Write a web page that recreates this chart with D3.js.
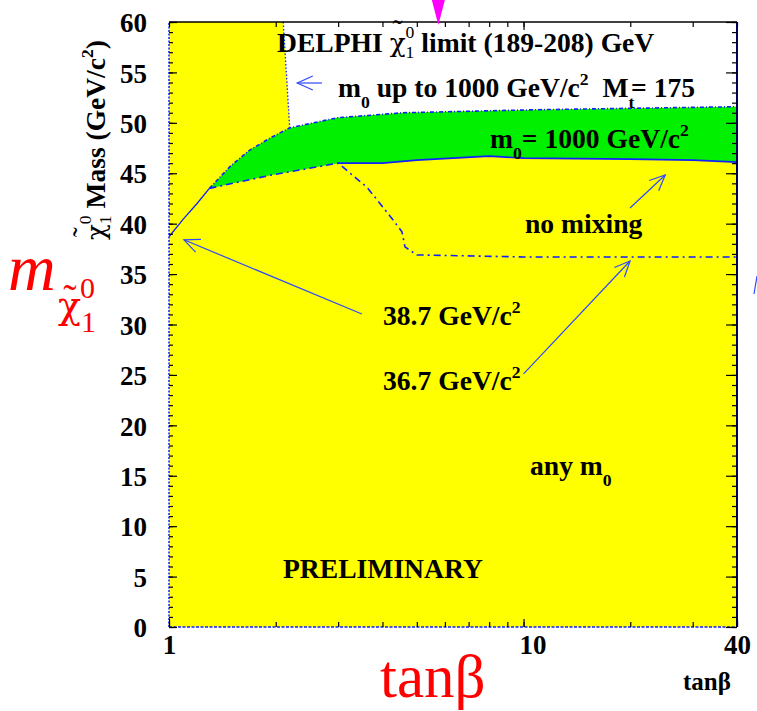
<!DOCTYPE html>
<html>
<head>
<meta charset="utf-8">
<script src="https://cdn.jsdelivr.net/npm/d3@7"></script>
<style>
  body { margin: 0; background: #fff; }
  svg text { font-family: "Liberation Serif", "Times New Roman", Times, serif; }
  svg text.greek { font-family: "DejaVu Serif", "Liberation Serif", serif; }
</style>
</head>
<body>
<svg id="chart" width="757" height="711"></svg>
<script>
// ---- axes ----
const tanBetaRange = [1, 40];
const tanBetaLabels = [1, 10, 40];
const tanBetaTicks = [1, 2, 3, 4, 5, 6, 7, 8, 9, 10, 20, 30, 40];
const massRange = [0, 60];
const massLabels = [0, 5, 10, 15, 20, 25, 30, 35, 40, 45, 50, 55, 60];
const massMinor = d3.range(0, 61, 1);

// ---- limits on the lightest neutralino mass (tan(beta), GeV/c^2) ----
// common part at low tan(beta)
const limitCommon = [[1, 38.7], [1.1, 40.5], [1.2, 42.0], [1.3, 43.5]];
// no stop mixing
const limitNoMixing = [[1.3, 43.5], [1.93, 44.8], [3.0, 46.0], [3.62, 43.6], [4.28, 40.4],
                       [4.54, 39.2], [4.63, 37.7], [5.0, 36.9], [10, 36.7], [40, 36.7]];
// m0 = 1000 GeV/c^2
const limitM0Max = [[3.0, 46.0], [4.0, 46.0], [5.0, 46.3], [8.0, 46.7], [10, 46.5],
                    [20, 46.4], [30, 46.3], [40, 46.1]];
// m0 up to 1000 GeV/c^2
const limitM0Range = [[1.3, 43.5], [1.49, 45.7], [1.69, 47.3], [1.93, 48.5], [2.19, 49.5],
                      [2.98, 50.5], [4.57, 51.0], [10.9, 51.3], [40, 51.6]];
// edge of the open (not excluded) region at low tan(beta)
const openEdge = [[2.10, 60], [2.19, 49.5]];
// tan(beta) marker on the top axis
const topMarker = 5.75;

// ---- layout ----
const svg = d3.select("#chart");
const M = { left: 169, top: 22, right: 20, bottom: 84 };
const W = 757 - M.left - M.right;
const H = 711 - M.top - M.bottom;

const x = d3.scaleLog().domain(tanBetaRange).range([M.left, M.left + W]);
const y = d3.scaleLinear().domain(massRange).range([M.top + H, M.top]);

const BLUE = "#1020ff";
const ARROW = "#3048ff";
const line = d3.line().x(d => x(d[0])).y(d => y(d[1]));

// ---- regions ----
svg.append("rect").attr("x", x(1)).attr("y", y(60)).attr("width", W).attr("height", H)
  .attr("fill", "#ffff00");

// open region above the m0 range limit
const openPoly = [openEdge[0], [40, 60]]
  .concat(limitM0Range.slice().reverse().filter(d => d[0] >= openEdge[1][0]));
svg.append("path").attr("d", line(openPoly) + "Z").attr("fill", "#fff");

// band between m0 = 1000 and m0 up to 1000
const lowerEdge = limitNoMixing.filter(d => d[0] < 3.0).concat(limitM0Max);
const bandPoly = limitM0Range.concat(lowerEdge.slice().reverse());
svg.append("path").attr("d", line(bandPoly) + "Z").attr("fill", "#00f000");

// ---- limit curves ----
svg.append("path").attr("d", line(limitCommon)).attr("fill", "none")
  .attr("stroke", BLUE).attr("stroke-width", 1.3);
svg.append("path").attr("d", line(limitM0Max)).attr("fill", "none")
  .attr("stroke", BLUE).attr("stroke-width", 1.6);
svg.append("path").attr("d", line(limitNoMixing)).attr("fill", "none")
  .attr("stroke", BLUE).attr("stroke-width", 1.6).attr("stroke-dasharray", "7,4,2,4");
svg.append("path").attr("d", line(limitM0Range)).attr("fill", "none")
  .attr("stroke", BLUE).attr("stroke-width", 1.6).attr("stroke-dasharray", "4,2,1,2");
svg.append("path").attr("d", line(openEdge)).attr("fill", "none")
  .attr("stroke", BLUE).attr("stroke-width", 1.3).attr("stroke-dasharray", "1.5,2");

// ---- frame and ticks ----
const frame = svg.append("g");
frame.append("line").attr("x1", x(1)).attr("x2", x(1)).attr("y1", y(0)).attr("y2", y(60))
  .attr("stroke", BLUE).attr("stroke-width", 1.5).attr("stroke-dasharray", "2,1.5");
frame.append("line").attr("x1", x(1)).attr("x2", x(40)).attr("y1", y(0)).attr("y2", y(0))
  .attr("stroke", BLUE).attr("stroke-width", 1.5).attr("stroke-dasharray", "3,1.5");
frame.append("line").attr("x1", x(1)).attr("x2", x(40)).attr("y1", y(60)).attr("y2", y(60))
  .attr("stroke", "#000").attr("stroke-width", 1.5);
frame.append("line").attr("x1", x(40)).attr("x2", x(40)).attr("y1", y(0)).attr("y2", y(60))
  .attr("stroke", "#000060").attr("stroke-width", 2);

function styleAxis(g) {
  g.select(".domain").remove();
  g.attr("font-family", null);
  g.selectAll(".tick line").attr("stroke", "#000").attr("stroke-width", 1.2);
  g.selectAll(".tick text")
    .attr("font-weight", "bold").attr("font-size", 27).attr("fill", "#000");
}

// left axis: labels and inner ticks
svg.append("g").attr("transform", `translate(${x(1)},0)`)
  .call(d3.axisLeft(y).tickValues(massMinor).tickSize(-4).tickFormat(""))
  .call(styleAxis);
svg.append("g").attr("transform", `translate(${x(1)},0)`)
  .call(d3.axisLeft(y).tickValues(massLabels).tickSize(-8).tickFormat(d3.format("d")))
  .call(styleAxis)
  .call(g => g.selectAll(".tick text").attr("x", -22).attr("dy", "0.36em"));
// right axis
svg.append("g").attr("transform", `translate(${x(40)},0)`)
  .call(d3.axisRight(y).tickValues(massMinor).tickSize(-5).tickFormat(""))
  .call(styleAxis);
svg.append("g").attr("transform", `translate(${x(40)},0)`)
  .call(d3.axisRight(y).tickValues(massLabels).tickSize(-11).tickFormat(""))
  .call(styleAxis);
// bottom axis
svg.append("g").attr("transform", `translate(0,${y(0)})`)
  .call(d3.axisBottom(x).tickValues(tanBetaTicks).tickSize(-5).tickFormat(""))
  .call(styleAxis);
svg.append("g").attr("transform", `translate(0,${y(0)})`)
  .call(d3.axisBottom(x).tickValues(tanBetaLabels).tickSize(-8).tickFormat(d3.format("d")))
  .call(styleAxis)
  .call(g => g.selectAll(".tick text").attr("y", 5).attr("dy", "0.82em")
    .attr("dx", d => d === 10 ? 9 : 0));
// top axis
svg.append("g").attr("transform", `translate(0,${y(60)})`)
  .call(d3.axisTop(x).tickValues(tanBetaTicks).tickSize(-5).tickFormat(""))
  .call(styleAxis);
svg.append("g").attr("transform", `translate(0,${y(60)})`)
  .call(d3.axisTop(x).tickValues([10]).tickSize(-8).tickFormat(""))
  .call(styleAxis);

// ---- marker on top ----
const mx = x(topMarker);
svg.append("path").attr("d", `M${mx - 6.5},0L${mx + 6.5},0L${mx},${y(60) + 3}Z`)
  .attr("fill", "#ff00ff");

// ---- arrows ----
function arrow(tail, tip) {
  const x1 = x(tail[0]), y1 = y(tail[1]), x2 = x(tip[0]), y2 = y(tip[1]);
  const a = Math.atan2(y1 - y2, x1 - x2), L = 17, s = 0.42;
  const g = svg.append("g").attr("stroke", ARROW).attr("stroke-width", 1.2).attr("fill", "none");
  g.append("line").attr("x1", x1).attr("y1", y1).attr("x2", x2).attr("y2", y2);
  g.append("path").attr("d",
    `M${x2 + L * Math.cos(a + s)},${y2 + L * Math.sin(a + s)}L${x2},${y2}L${x2 + L * Math.cos(a - s)},${y2 + L * Math.sin(a - s)}`);
}
arrow([2.70, 53.95], [2.30, 53.95]);
arrow([3.50, 31.04], [1.102, 38.4]);
arrow([10.0, 25.1], [19.97, 36.3]);
arrow([19.97, 41.55], [25.1, 44.83]);

// ---- rich text (sub/superscripts, tildes) ----
function rich(parent, x0, y0, size, parts, opts = {}) {
  let cur = x0, lastX = x0, lastW = 0;
  const fill = opts.fill || "#000";
  parts.forEach(p => {
    const fs = size * (p.s || 1);
    const yy = y0 + (p.dy || 0) * size;
    if (p.tilde) {
      parent.append("text").attr("x", lastX + lastW / 2 + (p.dx || 0) * size).attr("y", yy)
        .attr("text-anchor", "middle").attr("font-size", fs).attr("fill", fill)
        .text("\u02DC");
      return;
    }
    const px = (p.stack ? lastX : cur) + (p.dx || 0) * size;
    const el = parent.append("text").attr("x", px).attr("y", yy)
      .attr("class", p.g ? "greek" : null)
      .attr("font-size", fs).attr("fill", fill)
      .attr("font-weight", p.w || opts.w || "bold")
      .attr("font-style", p.i ? "italic" : "normal")
      .attr("xml:space", "preserve").text(p.t);
    const w = el.node().getComputedTextLength();
    if (p.stack) cur = Math.max(cur, px + w);
    else { lastX = px; lastW = w; cur = px + w; }
  });
}
const SUB = 0.64;
const FS = 27.6;

rich(svg, 277, 52, FS, [
  { t: "DELPHI " },
  { t: "\u03C7", w: "normal", g: true, s: 0.95 },
  { tilde: true, s: 1.1, dy: -0.45, w: "normal" },
  { t: "0", s: SUB, dy: -0.5, w: "normal" },
  { t: "1", s: SUB, dy: 0.2, w: "normal", stack: true },
  { t: " limit (189-208) GeV" }
]);
rich(svg, 338, 97, FS, [
  { t: "m" }, { t: "0", s: SUB, dy: 0.4 },
  { t: " up to 1000 GeV/c" }, { t: "2", s: SUB, dy: -0.45 },
  { t: "  M" }, { t: "t", s: SUB, dy: 0.4 }, { t: "= 175", dx: -0.12 }
]);
rich(svg, 490, 148, FS, [
  { t: "m" }, { t: "0", s: SUB, dy: 0.4 }, { t: "= 1000 GeV/c" }, { t: "2", s: SUB, dy: -0.45 }
]);
rich(svg, 525, 233, FS, [{ t: "no mixing" }]);
rich(svg, 383, 325, FS, [{ t: "38.7 GeV/c" }, { t: "2", s: SUB, dy: -0.45 }]);
rich(svg, 383, 390, FS, [{ t: "36.7 GeV/c" }, { t: "2", s: SUB, dy: -0.45 }]);
rich(svg, 530, 475, FS, [{ t: "any m" }, { t: "0", s: SUB, dy: 0.4 }]);
rich(svg, 283, 578, FS, [{ t: "PRELIMINARY" }]);

// y axis title
const yTitle = svg.append("g").attr("transform", "translate(105,240) rotate(-90)");
rich(yTitle, 0, 0, 27.5, [
  { t: "\u03C7", w: "normal", g: true, s: 0.95 },
  { tilde: true, s: 1.1, dy: -0.45 },
  { t: "0", s: SUB, dy: -0.5, w: "normal" },
  { t: "1", s: SUB, dy: 0.2, w: "normal", stack: true },
  { t: " Mass (GeV/c" }, { t: "2", s: SUB, dy: -0.45 }, { t: ")" }
]);

// x axis small title
rich(svg, 683, 690, 25, [{ t: "tan\u03B2" }]);

// big red axis names
svg.append("text").attr("x", 8).attr("y", 290).attr("font-size", 66)
  .attr("font-style", "italic").attr("fill", "#ff0000").text("m");
svg.append("text").attr("class", "greek").attr("x", 58).attr("y", 318).attr("font-size", 38)
  .attr("fill", "#ff0000").text("\u03C7");
svg.append("text").attr("x", 70).attr("y", 312).attr("font-size", 40)
  .attr("text-anchor", "middle").attr("fill", "#ff0000").text("\u02DC");
svg.append("text").attr("x", 80).attr("y", 298).attr("font-size", 30)
  .attr("fill", "#ff0000").text("0");
svg.append("text").attr("x", 81).attr("y", 332).attr("font-size", 30)
  .attr("fill", "#ff0000").text("1");
svg.append("text").attr("x", 380).attr("y", 697).attr("font-size", 61)
  .attr("fill", "#ff0000").text("tan\u03B2");

// fragment at the right border
svg.append("line").attr("x1", 757).attr("y1", 276).attr("x2", 754).attr("y2", 294)
  .attr("stroke", ARROW).attr("stroke-width", 1.2);
</script>
</body>
</html>
